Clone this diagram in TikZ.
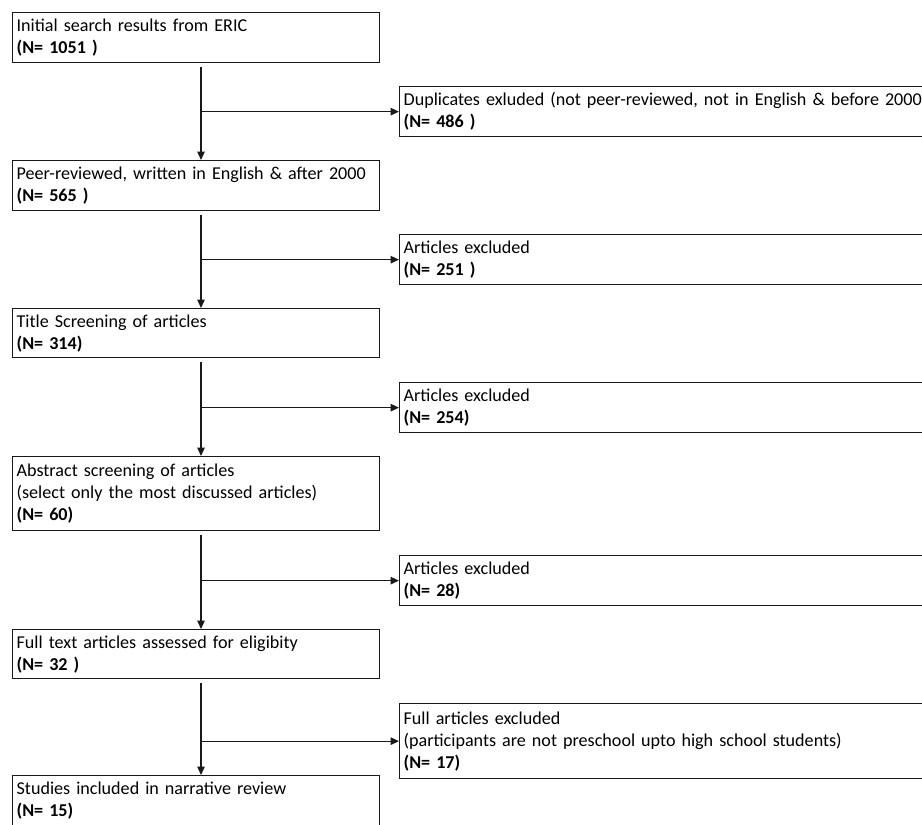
\documentclass[tikz,border=0pt]{standalone}
\usepackage{fontspec}
\setmainfont{Carlito}
\usetikzlibrary{arrows.meta}
\begin{document}
\begin{tikzpicture}[x=1pt,y=-1pt,
  box/.style={draw=black!90, line width=1.3pt, anchor=north west, align=left,
    inner xsep=4pt, inner ysep=0pt, font=\fontsize{18.1}{22}\selectfont, text=black},
  lbox/.style={box, text width=359pt, minimum width=367pt},
  rbox/.style={box, text width=592pt, minimum width=600pt},
  arr/.style={draw=black!90, line width=1.3pt, -{Triangle[length=8.5pt,width=7.5pt]}}]
\clip (0,0) rectangle (922,825);
\fill[white] (0,0) rectangle (922,825);
\coordinate (ax) at (201,0);
% left column
\node[lbox, minimum height=50pt] (b1) at (12,12) {Initial search results from ERIC\\\textbf{(N= 1051 )}};
\node[lbox, minimum height=50pt] (b2) at (12,160) {Peer-reviewed, written in English \& after 2000\\\textbf{(N= 565 )}};
\node[lbox, minimum height=49pt] (b3) at (12,308) {Title Screening of articles\\\textbf{(N= 314)}};
\node[lbox, minimum height=74pt] (b4) at (12,456) {Abstract screening of articles\\(select only the most discussed articles)\\\textbf{(N= 60)}};
\node[lbox, minimum height=49pt] (b5) at (12,629) {Full text articles assessed for eligibity\\\textbf{(N= 32 )}};
\node[lbox, minimum height=50pt] (b6) at (12,775) {Studies included in narrative review\\\textbf{(N= 15)}};
% right column
\node[rbox, minimum height=50pt] (r1) at (399,86) {Duplicates exluded (not peer-reviewed, not in English \& before 2000)\\\textbf{(N= 486 )}};
\node[rbox, minimum height=50pt] (r2) at (399,234) {Articles excluded\\\textbf{(N= 251 )}};
\node[rbox, minimum height=50pt] (r3) at (399,382) {Articles excluded\\\textbf{(N= 254)}};
\node[rbox, minimum height=50pt] (r4) at (399,555) {Articles excluded\\\textbf{(N= 28)}};
\node[rbox, minimum height=75pt] (r5) at (399,703) {Full articles excluded\\(participants are not preschool upto high school students)\\\textbf{(N= 17)}};
% connectors
\foreach \a/\b/\r in {b1/b2/r1, b2/b3/r2, b3/b4/r3, b4/b5/r4, b5/b6/r5}{
  \draw[arr] ([yshift=-4pt]\a.south -| ax) -- (\b.north -| ax);
  \draw[arr] (ax |- \r.west) -- (\r.west);
}
\end{tikzpicture}
\end{document}
